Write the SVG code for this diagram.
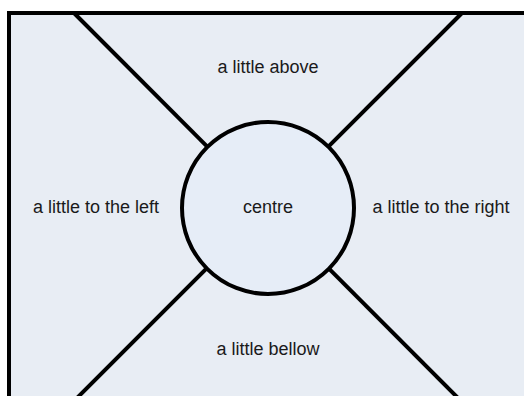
<svg xmlns="http://www.w3.org/2000/svg" width="524" height="396" viewBox="0 0 524 396">
<style>
.lbl{font-family:"Liberation Sans",Arial,sans-serif;font-size:18px;fill:#1a1a1a;text-anchor:middle}
.ln{stroke:#000;stroke-width:4;fill:none}
</style>
<rect width="524" height="396" fill="#ffffff"/>
<g id="frame">
<rect x="9" y="13" width="530" height="400" fill="#e8edf4" stroke="#000" stroke-width="4"/>
</g>
<g id="connectors">
<line class="ln" x1="74" y1="13" x2="458" y2="398"/>
<line class="ln" x1="462" y1="13" x2="77" y2="398"/>
</g>
<g id="centre">
<circle cx="268" cy="208" r="86" fill="#e6edf7" stroke="#000" stroke-width="4"/>
<text class="lbl" x="268" y="213">centre</text>
</g>
<g id="above"><text class="lbl" x="268" y="73">a little above</text></g>
<g id="left"><text class="lbl" x="96" y="213">a little to the left</text></g>
<g id="right"><text class="lbl" x="441" y="213">a little to the right</text></g>
<g id="below"><text class="lbl" x="268" y="355">a little bellow</text></g>
</svg>
